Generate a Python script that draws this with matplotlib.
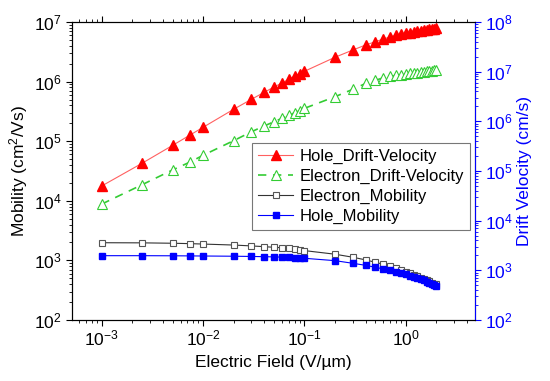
import matplotlib
matplotlib.use("Agg")
import matplotlib.pyplot as plt
import numpy as np

plt.rcParams['font.family'] = ['Liberation Sans', 'DejaVu Sans']
plt.rcParams['mathtext.fontset'] = 'custom'
plt.rcParams['mathtext.rm'] = 'Liberation Sans'
plt.rcParams['mathtext.it'] = 'Liberation Sans:italic'
plt.rcParams['mathtext.bf'] = 'Liberation Sans:bold'

field = [0.001, 0.0025, 0.005, 0.0075, 0.01, 0.02, 0.03, 0.04, 0.05, 0.06, 0.07, 0.08, 0.09, 0.1,
         0.2, 0.3, 0.4, 0.5, 0.6, 0.7, 0.8, 0.9, 1.0, 1.1, 1.2, 1.3, 1.4, 1.5, 1.6, 1.7, 1.8, 1.9, 2.0]

hole_drift = [1.77e4, 4.26e4, 8.5e4, 1.28e5, 1.71e5, 3.43e5, 5.05e5, 6.6e5, 8.1e5, 9.5e5, 1.09e6, 1.24e6, 1.36e6, 1.49e6,
              2.56e6, 3.39e6, 4.11e6, 4.67e6, 5.19e6, 5.6e6, 5.95e6, 6.2e6, 6.45e6, 6.65e6, 6.85e6, 7.0e6, 7.15e6,
              7.3e6, 7.42e6, 7.55e6, 7.65e6, 7.75e6, 7.85e6]

electron_drift = [8.8e3, 1.86e4, 3.29e4, 4.5e4, 5.8e4, 1.02e5, 1.44e5, 1.8e5, 2.12e5, 2.42e5, 2.72e5, 3.0e5, 3.25e5, 3.56e5,
                  5.58e5, 7.43e5, 9.3e5, 1.05e6, 1.16e6, 1.22e6, 1.27e6, 1.31e6, 1.34e6, 1.37e6, 1.40e6, 1.42e6, 1.44e6,
                  1.46e6, 1.48e6, 1.50e6, 1.52e6, 1.54e6, 1.56e6]

electron_mobility = [1980, 1970, 1940, 1910, 1880, 1810, 1750, 1700, 1660, 1630, 1600, 1550, 1510, 1460,
                     1270, 1130, 1020, 930, 860, 800, 744, 689, 646, 605, 571, 538, 511, 487, 464, 444, 425, 408, 395]

hole_mobility = [1200, 1200, 1195, 1190, 1185, 1175, 1165, 1155, 1145, 1135, 1125, 1115, 1100, 1085,
                 990, 894, 827, 766, 718, 680, 645, 612, 582, 553, 527, 503, 480, 460, 440, 422, 404, 388, 372]

fig = plt.figure(figsize=(5.5, 3.81), dpi=100)
ax = fig.add_axes([72/550, 1 - 320/381, (475-72)/550, (320-22)/381])

l1, = ax.plot(field, hole_drift, color='#ff6060', lw=0.8, marker='^', ms=6.5, mfc='red', mec='red', label='Hole_Drift-Velocity')
l2, = ax.plot(field, electron_drift, color='#33cc33', lw=1.2, ls=(0, (5, 4)), marker='^', ms=6.5, mfc='white', mec='#33cc33', mew=0.8, label='Electron_Drift-Velocity')
l3, = ax.plot(field, electron_mobility, color='#333333', lw=0.8, marker='s', ms=5, mfc='white', mec='#555555', mew=0.8, label='Electron_Mobility')
l4, = ax.plot(field, hole_mobility, color='blue', lw=0.8, marker='s', ms=5, mfc='blue', mec='blue', label='Hole_Mobility')

ax.set_xscale('log')
ax.set_yscale('log')
ax.set_xlim(5.1e-4, 4.8)
ax.set_ylim(1e2, 1e7)
ax.set_xlabel('Electric Field (V/\u00b5m)', fontsize=12.5, labelpad=5)
ax.set_ylabel('Mobility (cm$^2$/Vs)', fontsize=12.5, labelpad=3)
ax.tick_params(axis='both', which='major', labelsize=12.5, direction='out', length=4)
ax.tick_params(axis='both', which='minor', direction='out', length=2)
ax.tick_params(axis='x', which='both', top=True, pad=2)

ax2 = ax.twinx()
ax2.set_yscale('log')
ax2.set_ylim(1e2, 1e8)
ax2.spines['right'].set_color('blue')
ax2.tick_params(axis='y', which='both', colors='blue', direction='out', labelsize=12.5)
ax2.tick_params(axis='y', which='major', length=4)
ax2.tick_params(axis='y', which='minor', length=2)
ax2.set_ylabel('Drift Velocity (cm/s)', color='blue', fontsize=12.5, labelpad=3)

leg = ax.legend(handles=[l1, l2, l3, l4], loc='upper right', bbox_to_anchor=(0.988, 0.594), fontsize=12,
                frameon=True, fancybox=False, edgecolor='#555555', borderpad=0.35, labelspacing=0.3,
                handlelength=2.1, handletextpad=0.4, borderaxespad=0.0)
leg.get_frame().set_linewidth(0.8)

fig.savefig('out.png', dpi=100)
